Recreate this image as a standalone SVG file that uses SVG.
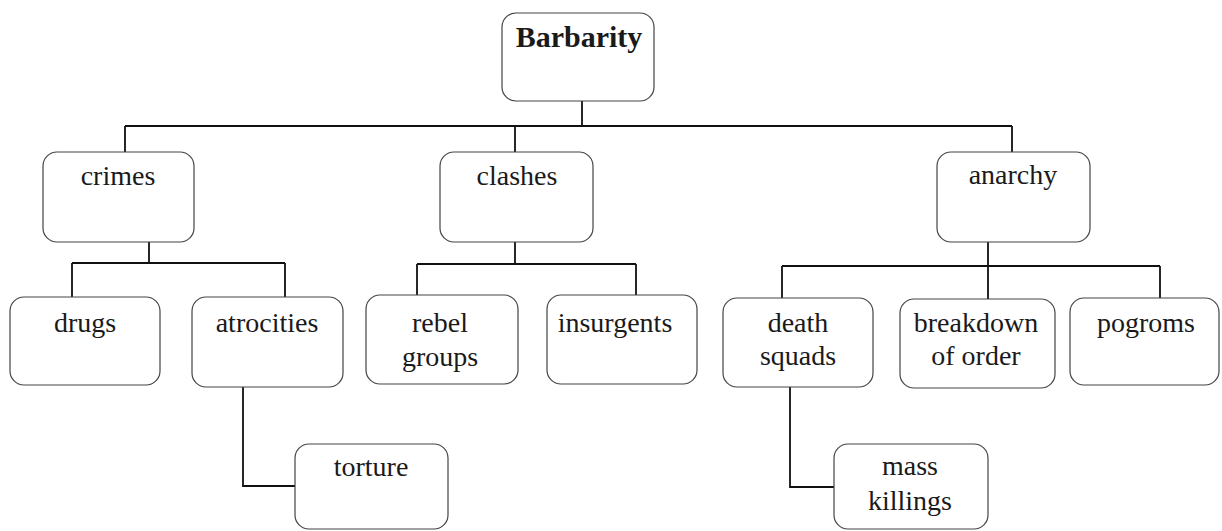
<svg xmlns="http://www.w3.org/2000/svg" width="1222" height="531" viewBox="0 0 1222 531">
<style>
.box{fill:#fff;stroke:#444;stroke-width:1.2}
.t{font-family:"Liberation Serif","Times New Roman",serif;font-size:28px;fill:#1a1a1a;text-anchor:middle}
.b{font-weight:bold;font-size:30px}
.c{fill:none;stroke:#111;stroke-width:1.8}
</style>
<rect width="1222" height="531" fill="#fff"/>
<g id="connectors">
<path class="c" d="M582 101V126M125 126H1012M125 126V152M515 126V152M1012 126V152"/>
<path class="c" d="M149 242V263M72 263H285M72 263V297M285 263V297"/>
<path class="c" d="M515 242V264M417 264H636M417 264V295M636 264V295"/>
<path class="c" d="M988 238V299M782 266H1160M782 266V298M1160 266V298"/>
<path class="c" d="M243 387V486H295"/>
<path class="c" d="M790 387V487H834"/>
</g>
<g id="barbarity"><rect class="box" x="502" y="13" width="152" height="88" rx="14"/><text class="t b" x="579" y="47">Barbarity</text></g>
<g id="crimes"><rect class="box" x="43" y="152" width="151" height="90" rx="14"/><text class="t" x="118" y="185">crimes</text></g>
<g id="clashes"><rect class="box" x="440" y="152" width="153" height="90" rx="14"/><text class="t" x="517" y="185">clashes</text></g>
<g id="anarchy"><rect class="box" x="937" y="152" width="153" height="90" rx="14"/><text class="t" x="1013" y="184">anarchy</text></g>
<g id="drugs"><rect class="box" x="10" y="297" width="150" height="88" rx="14"/><text class="t" x="85" y="332">drugs</text></g>
<g id="atrocities"><rect class="box" x="192" y="297" width="151" height="90" rx="14"/><text class="t" x="267" y="332">atrocities</text></g>
<g id="rebel-groups"><rect class="box" x="366" y="295" width="152" height="89" rx="14"/><text class="t" x="440" y="332">rebel</text><text class="t" x="440" y="366">groups</text></g>
<g id="insurgents"><rect class="box" x="547" y="295" width="150" height="89" rx="14"/><text class="t" x="615" y="332">insurgents</text></g>
<g id="death-squads"><rect class="box" x="723" y="298" width="150" height="89" rx="14"/><text class="t" x="798" y="332">death</text><text class="t" x="798" y="365">squads</text></g>
<g id="breakdown"><rect class="box" x="900" y="299" width="155" height="89" rx="14"/><text class="t" x="976" y="332">breakdown</text><text class="t" x="976" y="365">of order</text></g>
<g id="pogroms"><rect class="box" x="1070" y="298" width="149" height="87" rx="14"/><text class="t" x="1146" y="332">pogroms</text></g>
<g id="torture"><rect class="box" x="295" y="444" width="153" height="85" rx="14"/><text class="t" x="371" y="476">torture</text></g>
<g id="mass-killings"><rect class="box" x="834" y="444" width="154" height="85" rx="14"/><text class="t" x="910" y="475">mass</text><text class="t" x="910" y="510">killings</text></g>
</svg>
